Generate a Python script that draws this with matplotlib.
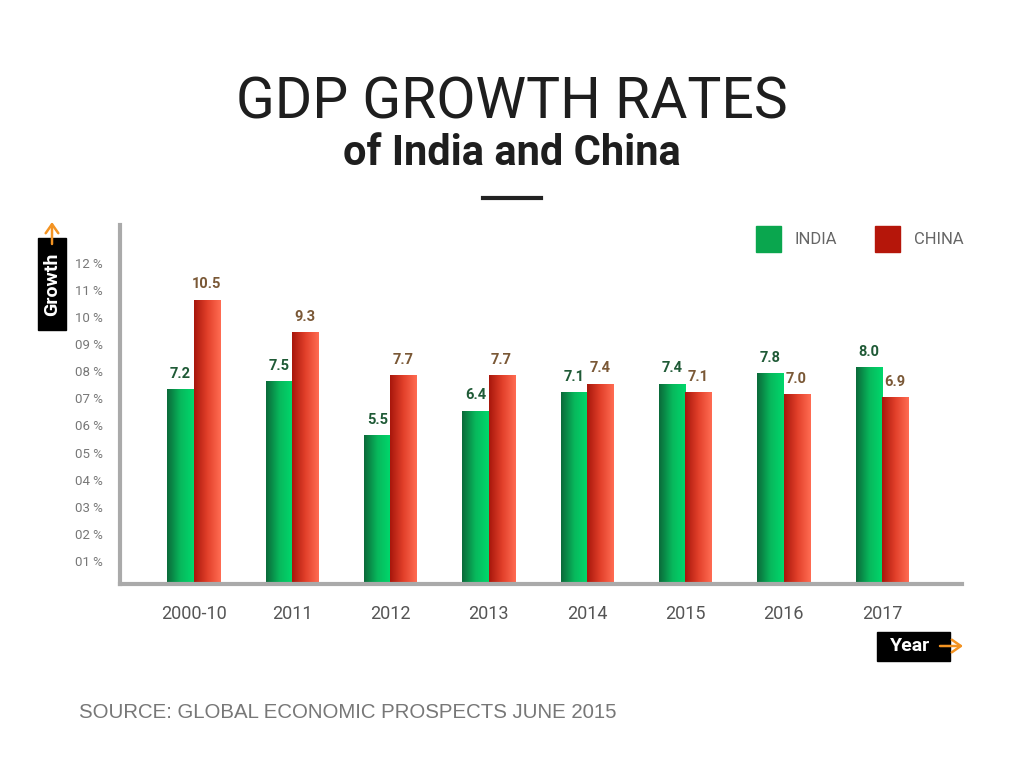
import numpy as np
import matplotlib.pyplot as plt
from matplotlib.colors import LinearSegmentedColormap
from matplotlib.patches import Rectangle
from matplotlib.transforms import ScaledTranslation

# data
years = ["2000-10", "2011", "2012", "2013", "2014", "2015", "2016", "2017"]
india = [7.2, 7.5, 5.5, 6.4, 7.1, 7.4, 7.8, 8.0]
china = [10.5, 9.3, 7.7, 7.7, 7.4, 7.1, 7.0, 6.9]
yticks = [1, 2, 3, 4, 5, 6, 7, 8, 9, 10, 11, 12]

green_cmap = LinearSegmentedColormap.from_list("g", ["#0b6a3a", "#08b85c", "#00d86c"])
red_cmap = LinearSegmentedColormap.from_list("r", ["#a8170c", "#e2402a", "#ff6c52"])

fig = plt.figure(figsize=(10.24, 7.68), dpi=100)
ax = fig.add_axes([0.117, 0.2396, 0.822, 0.4674])

x = np.arange(len(years))
w = 0.265
grad = np.linspace(0, 1, 64).reshape(1, -1)


def gradient_bars(xpos, vals, cmap):
    bars = ax.bar(xpos, vals, width=w, color="none", edgecolor="none", zorder=2)
    for b in bars:
        x0, y0 = b.get_x(), b.get_y()
        im = ax.imshow(grad, cmap=cmap, aspect="auto", zorder=2,
                       extent=[x0, x0 + b.get_width(), y0, y0 + b.get_height()])
        im.set_clip_path(b)
    return bars


gradient_bars(x - w / 2, india, green_cmap)
gradient_bars(x + w / 2, china, red_cmap)
ax.set_xlim(-0.75, 7.81)
ax.set_ylim(0, 13.25)

for xi, v in zip(x, india):
    ax.text(xi - w / 2, v + 0.3, f"{v:.1f}", ha="center", va="bottom",
            fontsize=10.5, fontweight="bold", color="#1f5a36", family="Roboto")
for xi, v in zip(x, china):
    ax.text(xi + w / 2, v + 0.3, f"{v:.1f}", ha="center", va="bottom",
            fontsize=10.5, fontweight="bold", color="#7a5836", family="Roboto")

ax.set_xticks(x)
ax.set_xticklabels(years, fontsize=13, color="#555555", family="Roboto")
ax.set_yticks(yticks)
ax.set_yticklabels([f"{t:02d} %" for t in yticks], fontsize=9.5, color="#777777",
                   family="Roboto")
ax.tick_params(axis="both", length=0)
ax.tick_params(axis="x", pad=15)
ax.tick_params(axis="y", pad=12)
shift = ScaledTranslation(0, -4 / 100, fig.dpi_scale_trans)
for lbl in ax.get_yticklabels():
    lbl.set_transform(lbl.get_transform() + shift)

for s in ["top", "right"]:
    ax.spines[s].set_visible(False)
for s in ["left", "bottom"]:
    ax.spines[s].set_color("#aaaaaa")
    ax.spines[s].set_linewidth(3)

# titles
fig.text(0.5, 0.866, "GDP GROWTH RATES", ha="center", va="center", fontsize=41,
         family="Roboto", color="#1e1e1e")
fig.text(0.5, 0.800, "of India and China", ha="center", va="center", fontsize=30,
         family="Roboto", fontweight="bold", color="#1e1e1e")
fig.add_artist(plt.Line2D([0.472, 0.528], [0.742, 0.742], color="#222222",
                          linewidth=3, transform=fig.transFigure))

# legend
fig.add_artist(Rectangle((756 / 1024, 1 - 252 / 768), 25 / 1024, 26 / 768,
                         transform=fig.transFigure, color="#0aa64e"))
fig.text(795 / 1024, 1 - 240 / 768, "INDIA", va="center", fontsize=12,
         color="#666666", family="Roboto")
fig.add_artist(Rectangle((875 / 1024, 1 - 252 / 768), 25 / 1024, 26 / 768,
                         transform=fig.transFigure, color="#b5160a"))
fig.text(914 / 1024, 1 - 240 / 768, "CHINA", va="center", fontsize=12,
         color="#666666", family="Roboto")

arrow = dict(arrowstyle="->,head_length=0.5,head_width=0.35", color="#f39322",
             lw=1.8, mutation_scale=13, shrinkA=0, shrinkB=0)

# axis labels
fig.add_artist(Rectangle((38 / 1024, 1 - 330 / 768), 28 / 1024, 92 / 768,
                         transform=fig.transFigure, color="black"))
fig.text(52 / 1024, 1 - 284 / 768, "Growth", rotation=90, ha="center", va="center",
         fontsize=14, fontweight="bold", color="white", family="Roboto")
fig.add_artist(plt.Annotation("", xy=(52 / 1024, 1 - 222 / 768),
                              xytext=(52 / 1024, 1 - 244 / 768),
                              xycoords="figure fraction", textcoords="figure fraction",
                              arrowprops=arrow))
fig.add_artist(Rectangle((877 / 1024, 1 - 661 / 768), 73 / 1024, 29 / 768,
                         transform=fig.transFigure, color="black"))
fig.text(910 / 1024, 1 - 646 / 768, "Year", ha="center", va="center",
         fontsize=14, fontweight="bold", color="white", family="Roboto")
fig.add_artist(plt.Annotation("", xy=(963 / 1024, 1 - 646 / 768),
                              xytext=(940 / 1024, 1 - 646 / 768),
                              xycoords="figure fraction", textcoords="figure fraction",
                              arrowprops=arrow))

fig.text(79 / 1024, 1 - 712 / 768, "SOURCE: GLOBAL ECONOMIC PROSPECTS JUNE 2015",
         va="center", fontsize=14.7, color="#777777", family="Liberation Sans")

fig.savefig("out.png", dpi=100)
